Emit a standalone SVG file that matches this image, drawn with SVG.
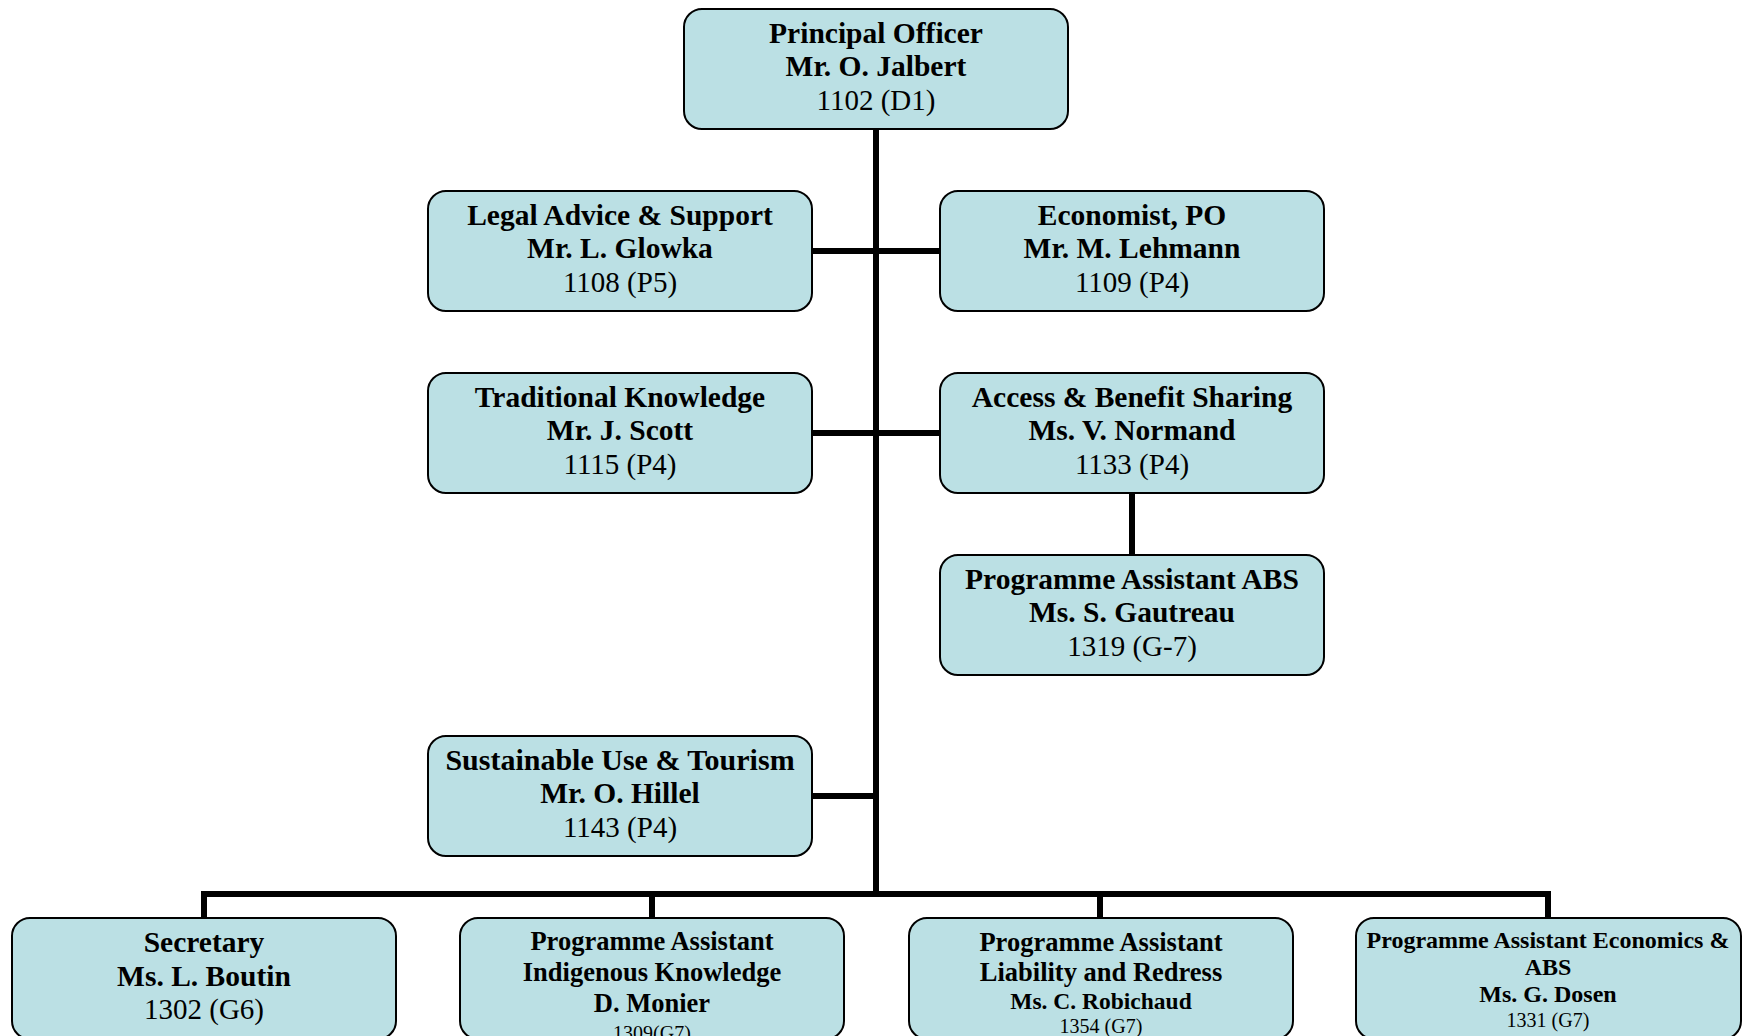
<svg xmlns="http://www.w3.org/2000/svg" width="1744" height="1036" viewBox="0 0 1744 1036">
<style>
.box{fill:#BBE0E4;stroke:#000;stroke-width:2}
.t{font-family:"Liberation Serif","Times New Roman",serif;text-anchor:middle;fill:#000}
.b{font-weight:bold}
.c{fill:none;stroke:#000;stroke-width:6}
</style>
<rect width="1744" height="1036" fill="#fff"/>
<g id="connectors">
<path class="c" d="M876 129V894M812 251H940M812 433H940M812 796H876M1132 493V555M204 894H1548M204 891V918M652 894V918M1100 894V918M1548 891V918"/>
</g>
<g id="principal">
<rect class="box" x="684" y="9" width="384" height="120" rx="18"/>
<text class="t b" x="876" y="43" font-size="29.5">Principal Officer</text>
<text class="t b" x="876" y="76" font-size="29.5">Mr. O. Jalbert</text>
<text class="t" x="876" y="110" font-size="29">1102 (D1)</text>
</g>
<g id="legal">
<rect class="box" x="428" y="191" width="384" height="120" rx="18"/>
<text class="t b" x="620" y="225" font-size="29.5">Legal Advice &amp; Support</text>
<text class="t b" x="620" y="258" font-size="29.5">Mr. L. Glowka</text>
<text class="t" x="620" y="292" font-size="29">1108 (P5)</text>
</g>
<g id="economist">
<rect class="box" x="940" y="191" width="384" height="120" rx="18"/>
<text class="t b" x="1132" y="225" font-size="29.5">Economist, PO</text>
<text class="t b" x="1132" y="258" font-size="29.5">Mr. M. Lehmann</text>
<text class="t" x="1132" y="292" font-size="29">1109 (P4)</text>
</g>
<g id="traditional">
<rect class="box" x="428" y="373" width="384" height="120" rx="18"/>
<text class="t b" x="620" y="407" font-size="29.5">Traditional Knowledge</text>
<text class="t b" x="620" y="440" font-size="29.5">Mr. J. Scott</text>
<text class="t" x="620" y="474" font-size="29">1115 (P4)</text>
</g>
<g id="access">
<rect class="box" x="940" y="373" width="384" height="120" rx="18"/>
<text class="t b" x="1132" y="407" font-size="29.5">Access &amp; Benefit Sharing</text>
<text class="t b" x="1132" y="440" font-size="29.5">Ms. V. Normand</text>
<text class="t" x="1132" y="474" font-size="29">1133 (P4)</text>
</g>
<g id="pa-abs">
<rect class="box" x="940" y="555" width="384" height="120" rx="18"/>
<text class="t b" x="1132" y="589" font-size="29.5">Programme Assistant ABS</text>
<text class="t b" x="1132" y="622" font-size="29.5">Ms. S. Gautreau</text>
<text class="t" x="1132" y="656" font-size="29">1319 (G-7)</text>
</g>
<g id="sustainable">
<rect class="box" x="428" y="736" width="384" height="120" rx="18"/>
<text class="t b" x="620" y="770" font-size="30">Sustainable Use &amp; Tourism</text>
<text class="t b" x="620" y="803" font-size="29.5">Mr. O. Hillel</text>
<text class="t" x="620" y="837" font-size="29">1143 (P4)</text>
</g>
<g id="secretary">
<rect class="box" x="12" y="918" width="384" height="121" rx="18"/>
<text class="t b" x="204" y="952" font-size="29.5">Secretary</text>
<text class="t b" x="204" y="986" font-size="29.5">Ms. L. Boutin</text>
<text class="t" x="204" y="1019" font-size="29">1302 (G6)</text>
</g>
<g id="pa-indigenous">
<rect class="box" x="460" y="918" width="384" height="121" rx="18"/>
<text class="t b" x="652" y="950" font-size="26.5">Programme Assistant</text>
<text class="t b" x="652" y="981" font-size="26.5">Indigenous Knowledge</text>
<text class="t b" x="652" y="1012" font-size="26.5">D. Monier</text>
<text class="t" x="652" y="1040" font-size="20">1309(G7)</text>
</g>
<g id="pa-liability">
<rect class="box" x="909" y="918" width="384" height="121" rx="18"/>
<text class="t b" x="1101" y="951" font-size="26.5">Programme Assistant</text>
<text class="t b" x="1101" y="981" font-size="26.5">Liability and Redress</text>
<text class="t b" x="1101" y="1009" font-size="23.5">Ms. C. Robichaud</text>
<text class="t" x="1101" y="1033" font-size="20">1354 (G7)</text>
</g>
<g id="pa-economics">
<rect class="box" x="1356" y="918" width="385" height="121" rx="18"/>
<text class="t b" x="1548" y="948" font-size="24">Programme Assistant Economics &amp;</text>
<text class="t b" x="1548" y="975" font-size="24">ABS</text>
<text class="t b" x="1548" y="1002" font-size="24">Ms. G. Dosen</text>
<text class="t" x="1548" y="1027" font-size="20">1331 (G7)</text>
</g>
</svg>
